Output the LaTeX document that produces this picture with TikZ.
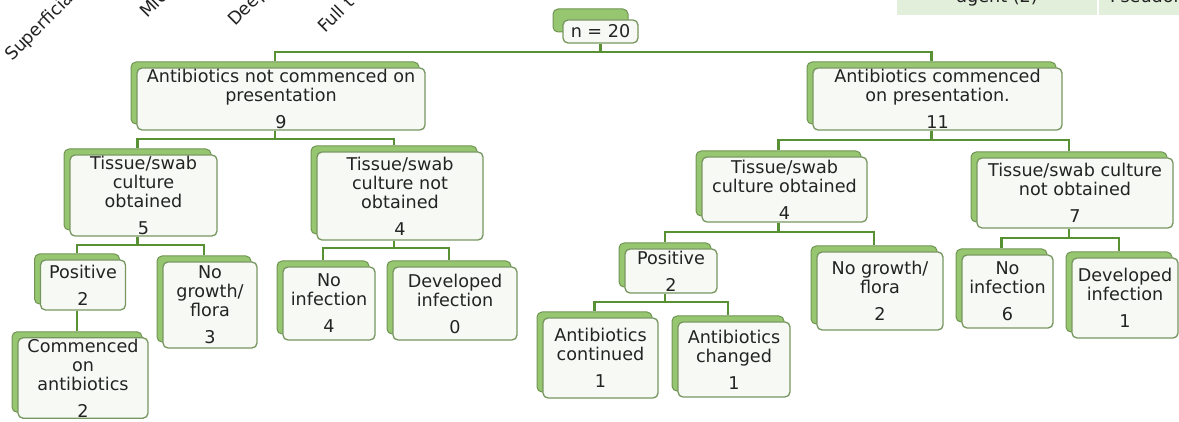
\documentclass[tikz,border=0pt]{standalone}
\usepackage{fontspec}
\setmainfont{DejaVu Sans}
\usepackage{tikz}
\usetikzlibrary{shadows,positioning,calc}
\definecolor{cardgreen}{RGB}{150,198,112}
\definecolor{cardedge}{RGB}{118,150,96}
\definecolor{cardfill}{RGB}{247,250,244}
\definecolor{linkgreen}{RGB}{88,145,52}
\definecolor{tablegreen}{RGB}{226,239,218}
\definecolor{inkgray}{RGB}{35,35,35}

\begin{document}
\begin{tikzpicture}[x=1pt, y=-1pt,
  cardbase/.style={
    rectangle, draw=cardedge, fill=cardfill, line width=1.3pt,
    rounded corners=5pt, inner sep=1pt, align=center, text=inkgray,
    font=\fontsize{17.6}{19}\selectfont},
  card/.style={cardbase,
    copy shadow={shadow xshift=-6pt, shadow yshift=6pt,
      fill=cardgreen, draw=cardgreen!75!black, line width=1pt}},
  wh/.style 2 args={minimum width=#1pt, minimum height=#2pt},
  link/.style={draw=linkgreen, line width=2.2pt},
  cut/.style={font=\fontsize{17.6}{19}\selectfont, text=inkgray, inner sep=0pt}
]
  \useasboundingbox (0,0) rectangle (1179,422);
  \clip (0,0) rectangle (1179,422);

  % cut-off labels and table at the top
  \node[cut, rotate=45, anchor=base west](lblA) at (12,62) {Superficia};
  \node[cut, rotate=45, anchor=base west](lblB) at (147,19) {Mic};
  \node[cut, rotate=45, anchor=base west](lblC) at (235,27) {Deep};
  \node[cut, rotate=45, anchor=base west](lblD) at (325,34) {Full t};
  \fill[tablegreen] (897,-20) rectangle (1097,15);
  \fill[tablegreen] (1099,-20) rectangle (1179,15);
  \node[cut, anchor=base](cellA) at (997,3) {agent (2)};
  \node[cut, anchor=base west](cellB) at (1110,3) {Pseudom};

  % boxes
  \node[cardbase, wh={75}{23},
    copy shadow={shadow xshift=-10pt, shadow yshift=11pt,
      fill=cardgreen, draw=cardgreen!75!black, line width=1pt}](root) at (600.5,31.5) {n = 20};
  \node[card, wh={288}{62}](notC) at (281,99) {Antibiotics not commenced on\\presentation\\[8pt]9};
  \node[card, wh={249}{62}](comm) at (937.5,99) {Antibiotics commenced\\on presentation.\\[8pt]11};

  \node[card, wh={147}{81}](lcult) at (143.5,195.5) {Tissue/swab\\culture\\obtained\\[8pt]5};
  \node[card, wh={166}{88}](lnocult) at (400,196) {Tissue/swab\\culture not\\obtained\\[8pt]4};
  \node[card, wh={165}{65}](rcult) at (784.5,189.5) {Tissue/swab\\culture obtained\\[8pt]4};
  \node[card, wh={196}{70}](rnocult) at (1075,193) {Tissue/swab culture\\not obtained\\[8pt]7};

  \node[card, wh={85}{50}](lpos) at (83,285) {Positive\\[8pt]2};
  \node[card, wh={94}{86}](lnogrowth) at (210,305) {No\\growth/\\flora\\[8pt]3};
  \node[card, wh={130}{80}](lstart) at (83,378) {Commenced\\on\\antibiotics\\[8pt]2};
  \node[card, wh={92}{73}](lnoinf) at (329,303.5) {No\\infection\\[8pt]4};
  \node[card, wh={124}{73}](ldev) at (455,303.5) {Developed\\infection\\[8pt]0};

  \node[card, wh={92}{44}](rpos) at (671,271) {Positive\\[8pt]2};
  \node[card, wh={126}{78}](rnogrowth) at (880,291) {No growth/\\flora\\[8pt]2};
  \node[card, wh={91}{73}](rnoinf) at (1007.5,291.5) {No\\infection\\[8pt]6};
  \node[card, wh={106}{80}](rdev) at (1125,298) {Developed\\infection\\[8pt]1};
  \node[card, wh={115}{80}](rcont) at (600.5,358) {Antibiotics\\continued\\[8pt]1};
  \node[card, wh={112}{75}](rchg) at (734,359.5) {Antibiotics\\changed\\[8pt]1};

  % connectors
  \draw[link](root.south) -- ++(0,8) -| ([xshift=-6pt,yshift=6pt]notC.north);
  \draw[link](root.south) -- ++(0,8) -| ([xshift=-6pt,yshift=6pt]comm.north);
  \draw[link]([xshift=-6pt]notC.south) -- ++(0,8) -| ([xshift=-6pt,yshift=6pt]lcult.north);
  \draw[link]([xshift=-6pt]notC.south) -- ++(0,8) -| ([xshift=-6pt,yshift=6pt]lnocult.north);
  \draw[link]([xshift=-6pt]comm.south) -- ++(0,9) -| ([xshift=-6pt,yshift=6pt]rcult.north);
  \draw[link]([xshift=-6pt]comm.south) -- ++(0,9) -| ([xshift=-6pt,yshift=6pt]rnocult.north);
  \draw[link]([xshift=-6pt]lcult.south) -- ++(0,8) -| ([xshift=-6pt,yshift=6pt]lpos.north);
  \draw[link]([xshift=-6pt]lcult.south) -- ++(0,8) -| ([xshift=-6pt,yshift=6pt]lnogrowth.north);
  \draw[link]([xshift=-6pt]lpos.south) -- ([xshift=-6pt,yshift=6pt]lstart.north);
  \draw[link]([xshift=-6pt]lnocult.south) -- ++(0,7) -| ([xshift=-6pt,yshift=6pt]lnoinf.north);
  \draw[link]([xshift=-6pt]lnocult.south) -- ++(0,7) -| ([xshift=-6pt,yshift=6pt]ldev.north);
  \draw[link]([xshift=-6pt]rcult.south) -- ++(0,9) -| ([xshift=-6pt,yshift=6pt]rpos.north);
  \draw[link]([xshift=-6pt]rcult.south) -- ++(0,9) -| ([xshift=-6pt,yshift=6pt]rnogrowth.north);
  \draw[link]([xshift=-6pt]rnocult.south) -- ++(0,9) -| ([xshift=-6pt,yshift=6pt]rnoinf.north);
  \draw[link]([xshift=-6pt]rnocult.south) -- ++(0,9) -| ([xshift=-6pt,yshift=6pt]rdev.north);
  \draw[link]([xshift=-6pt]rpos.south) -- ++(0,8) -| ([xshift=-6pt,yshift=6pt]rcont.north);
  \draw[link]([xshift=-6pt]rpos.south) -- ++(0,8) -| ([xshift=-6pt,yshift=6pt]rchg.north);
\end{tikzpicture}
\end{document}
